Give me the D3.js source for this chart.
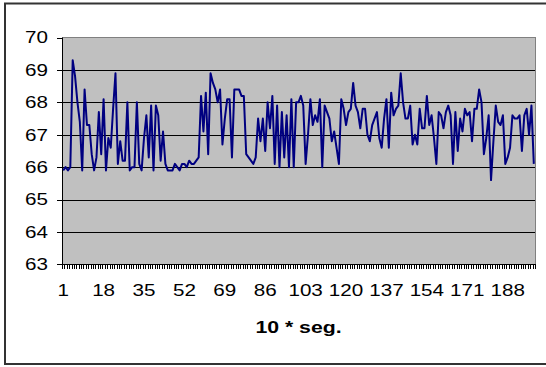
<!DOCTYPE html>
<head>
    <title>10 * seg.</title>
    <style>
        body { margin: 0; background: #ffffff; }
        .axis text {
            font-family: "Liberation Sans", Arial, sans-serif;
            font-size: 16.5px;
            fill: #000000;
        }
        .axis path,
        .axis line {
            stroke: #000000;
            shape-rendering: crispEdges;
        }
    </style>
</head>
<body>
<script src="https://cdn.jsdelivr.net/npm/d3@7/dist/d3.min.js"></script>
<script type="text/javascript">
    // data: one value every 10 s
    var categories = d3.range(1, 200);
    var values = [
        65.9, 66.0, 65.9, 66.0, 69.3, 68.8, 68.0, 67.4, 65.9, 68.4,
        67.3, 67.3, 66.4, 65.9, 66.3, 67.7, 66.4, 68.1, 65.9, 66.9,
        66.6, 67.8, 68.9, 66.1, 66.8, 66.2, 66.2, 68.0, 65.9, 66.0,
        66.0, 68.0, 66.1, 65.9, 66.9, 67.6, 66.3, 67.9, 65.9, 67.9,
        67.6, 66.2, 67.1, 66.1, 65.9, 65.9, 65.9, 66.1, 66.0, 65.9,
        66.1, 66.1, 66.0, 66.2, 66.1, 66.1, 66.2, 66.3, 68.2, 67.1,
        68.3, 66.4, 68.9, 68.6, 68.4, 68.0, 68.4, 66.7, 67.5, 68.1,
        68.1, 66.3, 68.4, 68.4, 68.4, 68.2, 68.2, 66.4, 66.3, 66.2,
        66.1, 66.3, 67.5, 66.8, 67.5, 66.5, 68.0, 67.2, 68.2, 66.1,
        67.9, 66.0, 67.7, 66.3, 67.6, 66.0, 68.1, 66.0, 68.0, 68.0,
        68.2, 67.9, 66.1, 67.0, 68.1, 67.3, 67.6, 67.4, 68.1, 66.0,
        67.9, 67.7, 67.5, 66.8, 67.1, 66.6, 66.1, 68.1, 67.8, 67.3,
        67.7, 67.8, 68.6, 67.9, 67.7, 67.2, 67.8, 67.8, 67.0, 66.8,
        67.3, 67.5, 67.7, 66.9, 66.6, 67.5, 68.1, 66.6, 68.3, 67.6,
        67.8, 67.9, 68.9, 68.0, 67.5, 67.5, 67.9, 66.7, 67.0, 66.7,
        67.8, 67.2, 67.2, 68.2, 67.3, 67.6, 66.9, 66.1, 67.7, 67.6,
        67.2, 67.7, 67.9, 67.6, 66.1, 67.7, 66.5, 67.5, 67.1, 67.8,
        67.6, 67.7, 66.8, 67.8, 67.8, 68.4, 68.0, 66.4, 66.9, 67.6,
        65.6, 66.8, 67.9, 67.4, 67.3, 67.6, 66.1, 66.3, 66.6, 67.6,
        67.5, 67.5, 67.6, 66.5, 67.6, 67.8, 67.0, 67.9, 66.1
    ];
    var xTickLabels = [1, 18, 35, 52, 69, 86, 103, 120, 137, 154, 171, 188];
    var yTicks = [63, 64, 65, 66, 67, 68, 69, 70];
    var xTitle = "10 * seg.";

    // frame and plot area
    var width = 546, height = 367;
    var plotLeft = 62, plotRight = 535, plotTop = 37.6, plotBottom = 264.3;
    // the picture's text is stretched sideways
    var stretch = 1.25;

    var svg = d3.select("body")
        .append("svg")
        .attr("width", width)
        .attr("height", height);

    // outer chart border (runs past the right edge in the picture)
    svg.append("rect")
        .attr("x", 5)
        .attr("y", 3.5)
        .attr("width", 560)
        .attr("height", 360.5)
        .attr("fill", "#ffffff")
        .attr("stroke", "#333333")
        .attr("stroke-width", 2);

    var x = d3.scaleBand()
        .domain(categories)
        .range([plotLeft, plotRight])
        .paddingInner(0)
        .paddingOuter(0);

    var xEdges = d3.scaleLinear()
        .domain([0, categories.length])
        .range([plotLeft, plotRight]);

    var y = d3.scaleLinear()
        .domain([63, 70])
        .range([plotBottom, plotTop]);

    // gray plot area
    svg.append("rect")
        .attr("x", plotLeft)
        .attr("y", plotTop)
        .attr("width", plotRight - plotLeft)
        .attr("height", plotBottom - plotTop)
        .attr("fill", "#c0c0c0")
        .attr("stroke", "#808080")
        .attr("stroke-width", 1)
        .style("shape-rendering", "crispEdges");

    // horizontal gridlines
    svg.append("g")
        .selectAll("line")
        .data(yTicks.filter(function (d) { return d > 63 && d < 70; }))
        .enter()
        .append("line")
        .attr("x1", plotLeft)
        .attr("x2", plotRight)
        .attr("y1", function (d) { return Math.round(y(d)) + 0.5; })
        .attr("y2", function (d) { return Math.round(y(d)) + 0.5; })
        .attr("stroke", "#000000")
        .attr("stroke-width", 1);

    // y axis
    var yAxis = d3.axisLeft(y)
        .tickValues(yTicks)
        .tickFormat(d3.format("d"))
        .tickSize(5)
        .tickPadding(9);
    svg.append("g")
        .attr("class", "axis")
        .attr("transform", "translate(" + plotLeft + ",0)")
        .call(yAxis)
        .call(function (g) { g.select(".domain").remove(); })
        .selectAll("text")
        .attr("x", -14 / stretch)
        .attr("transform", "scale(" + stretch + ",1)");
    svg.append("line")
        .attr("x1", plotLeft + 0.5)
        .attr("x2", plotLeft + 0.5)
        .attr("y1", plotTop)
        .attr("y2", plotBottom)
        .attr("stroke", "#000000");

    // x axis: tick marks between every category
    var xTickAxis = d3.axisBottom(xEdges)
        .tickValues(d3.range(0, categories.length + 1))
        .tickSize(5)
        .tickFormat("");
    svg.append("g")
        .attr("class", "axis")
        .attr("transform", "translate(0," + plotBottom + ")")
        .call(xTickAxis);

    // x labels every 17 categories
    var xAxis = d3.axisBottom(x)
        .tickValues(xTickLabels)
        .tickSize(0)
        .tickPadding(20);
    svg.append("g")
        .attr("class", "axis")
        .attr("transform", "translate(0," + plotBottom + ")")
        .call(xAxis)
        .call(function (g) { g.select(".domain").remove(); })
        .selectAll("text")
        .attr("transform", "scale(" + stretch + ",1)");

    // the series
    var line = d3.line()
        .x(function (d, i) { return x(categories[i]) + x.bandwidth() / 2; })
        .y(function (d) { return y(d); });

    svg.append("path")
        .datum(values)
        .attr("d", line)
        .attr("fill", "none")
        .attr("stroke", "#000080")
        .attr("stroke-width", 2)
        .attr("stroke-linejoin", "round");

    // x axis title
    svg.append("g")
        .attr("transform", "translate(" + ((plotLeft + plotRight) / 2) + ",333)")
        .append("text")
        .attr("transform", "scale(" + stretch + ",1)")
        .attr("text-anchor", "middle")
        .style("font-family", "\"Liberation Sans\", Arial, sans-serif")
        .style("font-size", "17px")
        .style("font-weight", "bold")
        .text(xTitle);
</script>
</body>
